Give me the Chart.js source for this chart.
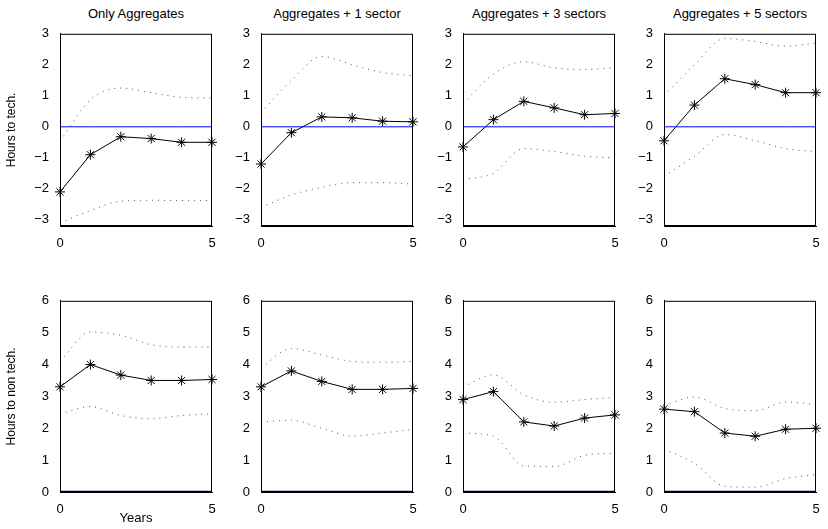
<!DOCTYPE html>
<html>
<head>
<meta charset="utf-8">
<script src="https://cdn.jsdelivr.net/npm/chart.js@4"></script>
<style>
  body { margin: 0; background: #fff; width: 828px; height: 529px; position: relative; overflow: hidden; font-family: "Liberation Sans", Arial, sans-serif; }
  .box { position: absolute; }
  .ttl { position: absolute; font-size: 13px; color: #000; text-align: center; width: 200px; }
</style>
</head>
<body>
<script>
// x values (years)
const years = [0, 1, 2, 3, 4, 5];
const titles = ['Only Aggregates', 'Aggregates + 1 sector', 'Aggregates + 3 sectors', 'Aggregates + 5 sectors'];

// Hours to tech. (top row)
const techMid = [
    [-2.1, -0.9, -0.32, -0.38, -0.5, -0.5],
    [-1.2, -0.19, 0.32, 0.29, 0.18, 0.16],
    [-0.65, 0.23, 0.82, 0.61, 0.39, 0.43],
    [-0.45, 0.7, 1.55, 1.36, 1.1, 1.1]
];
const techHi = [
    [-0.46, 0.87, 1.25, 1.1, 0.95, 0.93],
    [0.45, 1.5, 2.27, 2.0, 1.75, 1.65],
    [0.75, 1.7, 2.1, 1.9, 1.85, 1.9],
    [1.0, 2.0, 2.85, 2.75, 2.6, 2.7]
];
const techLo = [
    [-3.1, -2.7, -2.4, -2.37, -2.38, -2.38],
    [-2.6, -2.2, -1.95, -1.8, -1.8, -1.85],
    [-1.7, -1.5, -0.7, -0.8, -0.95, -1.0],
    [-1.6, -0.95, -0.25, -0.45, -0.7, -0.8]
];

// Hours to non tech. (bottom row)
const nonMid = [
    [3.3, 4.0, 3.67, 3.5, 3.5, 3.53],
    [3.3, 3.8, 3.47, 3.22, 3.22, 3.25],
    [2.9, 3.15, 2.2, 2.07, 2.32, 2.42],
    [2.6, 2.52, 1.85, 1.75, 1.97, 2.0]
];
const nonHi = [
    [4.1, 5.02, 4.92, 4.62, 4.55, 4.55],
    [3.9, 4.5, 4.3, 4.1, 4.07, 4.1],
    [3.3, 3.68, 3.05, 2.82, 2.9, 2.97],
    [2.72, 2.98, 2.62, 2.55, 2.82, 2.75]
];
const nonLo = [
    [2.45, 2.68, 2.4, 2.3, 2.4, 2.45],
    [2.2, 2.25, 2.0, 1.75, 1.85, 1.97],
    [1.85, 1.75, 0.82, 0.8, 1.15, 1.22],
    [1.35, 0.9, 0.18, 0.15, 0.42, 0.55]
];
const zeroLine = [0, 0, 0, 0, 0, 0];

const plotLefts = [60, 261, 463, 664];
const plotW = 152;
const font = { family: '"Liberation Sans", Arial, sans-serif', size: 13 };

const boxPlugin = {
    id: 'boxPlugin',
    afterDraw(chart) {
        const a = chart.chartArea, c = chart.ctx;
        c.save();
        c.strokeStyle = '#000';
        c.lineWidth = 1;
        c.strokeRect(a.left + 0.5, a.top + 0.5, a.right - a.left - 1, a.bottom - a.top - 1);
        c.restore();
    }
};

function pts(arr) { return arr.map((v, i) => ({ x: years[i], y: v })); }

function makeChart(col, row) {
    const top = row === 0 ? 31 : 298;
    const plotH = row === 0 ? 195 : 194;
    const yw = col === 0 ? 56 : 28;
    const xh = (col === 0 && row === 1) ? 34 : 22;
    const padTop = 8;
    const div = document.createElement('div');
    div.className = 'box';
    div.style.left = (plotLefts[col] - yw) + 'px';
    div.style.top = (top - padTop) + 'px';
    div.style.width = (yw + plotW + 10) + 'px';
    div.style.height = (padTop + plotH + xh) + 'px';
    const cv = document.createElement('canvas');
    div.appendChild(cv);
    document.body.appendChild(div);

    const mid = row === 0 ? techMid[col] : nonMid[col];
    const hi = row === 0 ? techHi[col] : nonHi[col];
    const lo = row === 0 ? techLo[col] : nonLo[col];
    const dotted = { borderColor: '#555', borderWidth: 1, borderDash: [1, 5], pointRadius: 0, cubicInterpolationMode: 'monotone', fill: false };

    new Chart(cv, {
        type: 'line',
        data: {
            datasets: [
                Object.assign({ data: pts(hi) }, dotted),
                Object.assign({ data: pts(lo) }, dotted),
                { data: pts(zeroLine), borderColor: row === 0 ? '#0000ff' : '#000080', borderWidth: row === 0 ? 1 : 2.5, pointRadius: 0 },
                { data: pts(mid), borderColor: '#000', borderWidth: 1, pointStyle: 'star', pointRadius: 5, pointBorderColor: '#000', pointBorderWidth: 1, tension: 0, clip: false }
            ]
        },
        options: {
            responsive: true,
            maintainAspectRatio: false,
            animation: false,
            layout: { padding: { top: padTop, right: 10, left: 0, bottom: 0 } },
            plugins: { legend: { display: false }, tooltip: { enabled: false } },
            scales: {
                x: {
                    type: 'linear', min: 0, max: 5,
                    grid: { display: false },
                    border: { color: '#000' },
                    afterBuildTicks: s => { s.ticks = [{ value: 0 }, { value: 5 }]; },
                    afterFit: s => { s.height = xh; },
                    ticks: { color: '#000', font: font, maxRotation: 0, padding: 2 },
                    title: { display: col === 0 && row === 1, text: 'Years', color: '#000', font: font, padding: 0 }
                },
                y: {
                    min: row === 0 ? -3.2 : 0,
                    max: row === 0 ? 3 : 6,
                    grid: { display: false },
                    border: { color: '#000' },
                    afterBuildTicks: s => {
                        const t = [];
                        const a = row === 0 ? -3 : 0, b = row === 0 ? 3 : 6;
                        for (let v = a; v <= b; v++) t.push({ value: v });
                        s.ticks = t;
                    },
                    afterFit: s => { s.width = yw; },
                    ticks: { color: '#000', font: font, padding: 3, callback: v => String(v).replace('-', '\u2212') },
                    title: { display: col === 0, text: row === 0 ? 'Hours to tech.' : 'Hours to non tech.', color: '#000', font: { family: font.family, size: 12 }, padding: 0 }
                }
            }
        },
        plugins: [boxPlugin]
    });

    if (row === 0) {
        const t = document.createElement('div');
        t.className = 'ttl';
        t.textContent = titles[col];
        t.style.left = (plotLefts[col] + plotW / 2 - 100) + 'px';
        t.style.top = '6px';
        document.body.appendChild(t);
    }
}

for (let r = 0; r < 2; r++) {
    for (let c = 0; c < 4; c++) makeChart(c, r);
}
</script>
</body>
</html>
